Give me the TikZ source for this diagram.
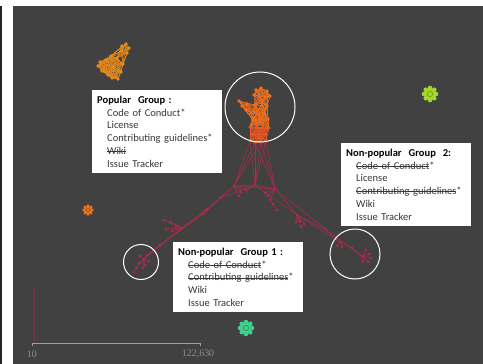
\documentclass[tikz,border=0pt]{standalone}
\usepackage{fontspec}
\setmainfont{Carlito}
\newfontfamily\scalefont{Liberation Serif}
\definecolor{bgdark}{HTML}{414141}
\definecolor{linkred}{HTML}{B02A4C}
\definecolor{popor}{HTML}{EE6E1E}
\definecolor{popred}{HTML}{E85A24}
\definecolor{amber}{HTML}{E8891C}
\definecolor{lime}{HTML}{A4D62C}
\definecolor{mint}{HTML}{3FD08C}
\definecolor{gearor}{HTML}{E8731E}
\definecolor{scalegray}{HTML}{A0A0A0}
\definecolor{boxtext}{HTML}{383838}
\tikzset{
  infobox/.style={fill=white, text=boxtext, align=left, anchor=north west,
    inner xsep=5pt, inner ysep=3pt, text width=120pt,
    font=\fontsize{10.5}{12.7}\selectfont},
  ring/.style={circle, draw=white, line width=1pt, inner sep=0pt},
  link/.style={linkred, line width=0.5pt},
}
\newsavebox\strikebox
\newcommand\strike[1]{\sbox\strikebox{#1}\rlap{\usebox\strikebox}\rule[0.27em]{\wd\strikebox}{0.5pt}}
\newcommand\drawgear[3]{%
  \fill[#3] (#1) circle (#2);
  \foreach \a in {0,45,...,315}
    \fill[#3] (#1) ++(\a:#2) circle ({0.38*#2});
  \draw[#3!60!black, line width=0.4pt] (#1) circle ({0.45*#2});
}
\newcommand\ind{\hspace*{10pt}}
\begin{document}
\begin{tikzpicture}[x=1pt, y=-1pt]
    \useasboundingbox (0,0) rectangle (483,364);
    \fill[bgdark] (13,6) rectangle (483,364);
    \fill[black!85] (0,6) rectangle (2,364);

    % top-left cluster
    \foreach \n/\p in {k1/{122,46}, k2/{126,44}, k3/{129,48}, k4/{127,53}, k5/{121,51},
                       k6/{100,62}, k7/{98,66}, k8/{102,71}, k9/{108,75}, k10/{112,78},
                       k11/{118,79}, k12/{121,72}, k13/{114,67}, k14/{106,60}, k15/{111,56},
                       k16/{117,58}, k17/{123,64}}
        \coordinate (\n) at (\p);
    \foreach \a in {k1,k2,k3,k4,k5,k15,k16,k17}
        \foreach \b in {k1,k2,k3,k4,k5,k15,k16,k17}
            \draw[amber, line width=0.3pt] (\a) -- (\b);
    \foreach \a in {k6,k7,k8,k9,k10,k11,k12,k13,k14,k15,k16,k17}
        \foreach \b in {k6,k7,k8,k9,k10,k11,k12,k13,k14,k15,k16,k17}
            \draw[amber, line width=0.3pt] (\a) -- (\b);
    \foreach \n in {k1,k2,k3,k4,k5,k6,k7,k8,k9,k10,k11,k12,k13,k14,k15,k16,k17}
        \fill[amber] (\n) circle (1.8pt);

    % popular cluster
    \foreach \n/\p in {t1/{256,90}, t2/{261,88}, t3/{267,91}, t4/{270,96}, t5/{265,97}, t6/{259,96}, t7/{254,95},
                       l1/{239,101}, l2/{242,106}, l3/{247,104}, l4/{246,110}, l5/{251,113},
                       m1/{255,105}, m2/{262,103}, m3/{267,106}, m4/{257,113}, m5/{264,114},
                       m6/{253,120}, m7/{260,121}, m8/{268,119},
                       b1/{250,127}, b2/{256,128}, b3/{263,127}, b4/{269,128}, b5/{252,134}, b6/{259,135}, b7/{266,134},
                       e1/{250,141}, e2/{255,143}, e3/{261,142}, e4/{266,141}}
        \coordinate (\n) at (\p);
    \foreach \a in {t1,t2,t3,t4,t5,t6,t7,m1,m2,m3}
        \foreach \b in {t1,t2,t3,t4,t5,t6,t7,m1,m2,m3}
            \draw[popor, line width=0.3pt] (\a) -- (\b);
    \foreach \a in {l1,l2,l3,l4,l5,m1,m4,m6}
        \foreach \b in {l1,l2,l3,l4,l5,m1,m4,m6}
            \draw[popor, line width=0.3pt] (\a) -- (\b);
    \foreach \a in {m1,m2,m3,m4,m5,m6,m7,m8,b1,b2,b3,b4}
        \foreach \b in {m1,m2,m3,m4,m5,m6,m7,m8,b1,b2,b3,b4}
            \draw[popor, line width=0.3pt] (\a) -- (\b);
    \foreach \a in {b1,b2,b3,b4,b5,b6,b7,e1,e2,e3,e4}
        \foreach \b in {b1,b2,b3,b4,b5,b6,b7,e1,e2,e3,e4}
            \draw[popred, line width=0.25pt] (\a) -- (\b);
    \foreach \n in {t1,t2,t3,t4,t5,t6,t7,l1,l2,l3,l4,l5,m1,m2,m3,m4,m5,m6,m7,m8}
        \fill[popor] (\n) circle (1.8pt);
    \foreach \n in {b1,b2,b3,b4,b5,b6,b7,e1,e2,e3,e4}
        \fill[popred] (\n) circle (1.6pt);

    % hubs and branches
    \coordinate (hl) at (234,186);
    \coordinate (hc) at (255,185);
    \coordinate (hr) at (275,189);
    \foreach \a in {e1,e2,e3} \draw[link] (\a) -- (hl);
    \foreach \a in {e1,e2,e3,e4} \draw[link] (\a) -- (hc);
    \foreach \a in {e2,e3,e4} \draw[link] (\a) -- (hr);
    \draw[link] (hl) -- (hc) -- (hr) -- cycle;

    \foreach \n/\p in {a1/{220,198}, a2/{207,209}, a3/{203,214}, a4/{182,228}, a5/{160,245},
                       s1/{164,220}, s2/{170,222}, s3/{166,229}, s4/{172,231}, s5/{176,226},
                       v1/{241,192}, v2/{239,196}, v3/{246,190},
                       q0/{144,259}, q1/{140,256}, q2/{147,255}, q3/{139,263}, q4/{145,265},
                       q5/{149,261}, q6/{136,268}, q7/{143,268}, q8/{134,272}}
        \coordinate (\n) at (\p);
    \draw[link] (hl) -- (a2) -- (a4);
    \draw[link] (hc) -- (a1) -- (a3) -- (a5) -- (q0);
    \draw[link] (hl) -- (a3);
    \draw[link] (a2) -- (q2);
    \draw[link] (a4) -- (q0);
    \draw[link] (hc) -- (v3);
    \foreach \n in {v1,v2,v3} \draw[link] (hl) -- (\n);
    \foreach \n in {s1,s2,s3,s4,s5} \draw[link] (a4) -- (\n);
    \foreach \n in {q1,q2,q3,q4,q5,q6,q7,q8} \draw[link] (q0) -- (\n);

    \foreach \n/\p in {c1/{297,215}, c2/{325,229}, c3/{340,242}, c4/{352,248}, c5/{362,256},
                       w1/{265,193}, w2/{270,200}, w3/{273,204}, w4/{277,210}, w5/{268,196},
                       u1/{300,221}, u2/{304,224}, u3/{301,227}, u4/{296,222},
                       r1/{342,247}, r2/{337,246},
                       g1/{369,254}, g2/{371,258}, g3/{368,262}, g4/{363,262}, g5/{366,250}}
        \coordinate (\n) at (\p);
    \draw[link] (hr) -- (c1) -- (c2) -- (c3) -- (c4) -- (c5);
    \draw[link] (hc) -- (c1);
    \draw[link] (hr) -- (c2);
    \draw[link] (c1) -- (c3);
    \draw[link] (c2) -- (c5);
    \foreach \n in {w1,w5} \draw[link] (hr) -- (\n);
    \draw[link] (hr) -- (w2) -- (w3) -- (w4);
    \foreach \n in {u1,u2,u3,u4} \draw[link] (c1) -- (\n);
    \foreach \n in {r1,r2} \draw[link] (c3) -- (\n);
    \foreach \n in {g1,g2,g3,g4,g5} \draw[link] (c5) -- (\n);

    \foreach \n in {hl,hc,hr,a1,a2,a3,a4,a5,s1,s2,s3,s4,s5,v1,v2,v3,
                    q0,q1,q2,q3,q4,q5,q6,q7,q8,c1,c2,c3,c4,c5,
                    w1,w2,w3,w4,w5,u1,u2,u3,u4,r1,r2,g1,g2,g3,g4,g5}
        \fill[linkred] (\n) circle (1.5pt);

    % rings
    \node[ring, minimum size=70pt] (popring) at (260,107) {};
    \node[ring, minimum size=35pt] (onering) at (141,262) {};
    \node[ring, minimum size=50pt] (tworing) at (355,254) {};

    % gears
    \coordinate (gearlime) at (430,94);
    \coordinate (gearorange) at (88,210);
    \coordinate (gearmint) at (246,328);
    \drawgear{gearlime}{6pt}{lime}
    \drawgear{gearorange}{4.2pt}{gearor}
    \drawgear{gearmint}{6pt}{mint}

    % boxes
    \node[infobox, minimum height=83pt] (popbox) at (92,90)
        {\textbf{\textcolor{black}{Popular\ \ Group :}}\\
         \ind Code of Conduct*\\
         \ind License\\
         \ind Contributing guidelines*\\
         \ind \strike{Wiki}\\
         \ind Issue Tracker};
    \node[infobox, minimum height=83pt] (twobox) at (341,143)
        {\textbf{\textcolor{black}{Non-popular\ \ Group\ \ 2:}}\\
         \ind \strike{Code of Conduct}*\\
         \ind License\\
         \ind \strike{Contributing guidelines}*\\
         \ind Wiki\\
         \ind Issue Tracker};
    \node[infobox, minimum height=70pt] (onebox) at (173,242)
        {\textbf{\textcolor{black}{Non-popular\ \ Group 1 :}}\\
         \ind \strike{Code of Conduct}*\\
         \ind \strike{Contributing guidelines}*\\
         \ind Wiki\\
         \ind Issue Tracker};

    % scale
    \coordinate (sbl) at (32,343);
    \coordinate (sbr) at (200,343);
    \draw[linkred!50!bgdark, line width=0.8pt] (34,287) -- (34,343);
    \draw[scalegray, line width=0.7pt] ([yshift=-3pt]sbl) -- (sbl) -- (sbr) -- ([yshift=-3pt]sbr);
    \node[text=scalegray!120, font=\scalefont\fontsize{10}{12}\selectfont] (lowlab) at (32,354) {10};
    \node[text=scalegray!120, font=\scalefont\fontsize{10}{12}\selectfont] (highlab) at (198,354) {122,630};
\end{tikzpicture}
\end{document}
